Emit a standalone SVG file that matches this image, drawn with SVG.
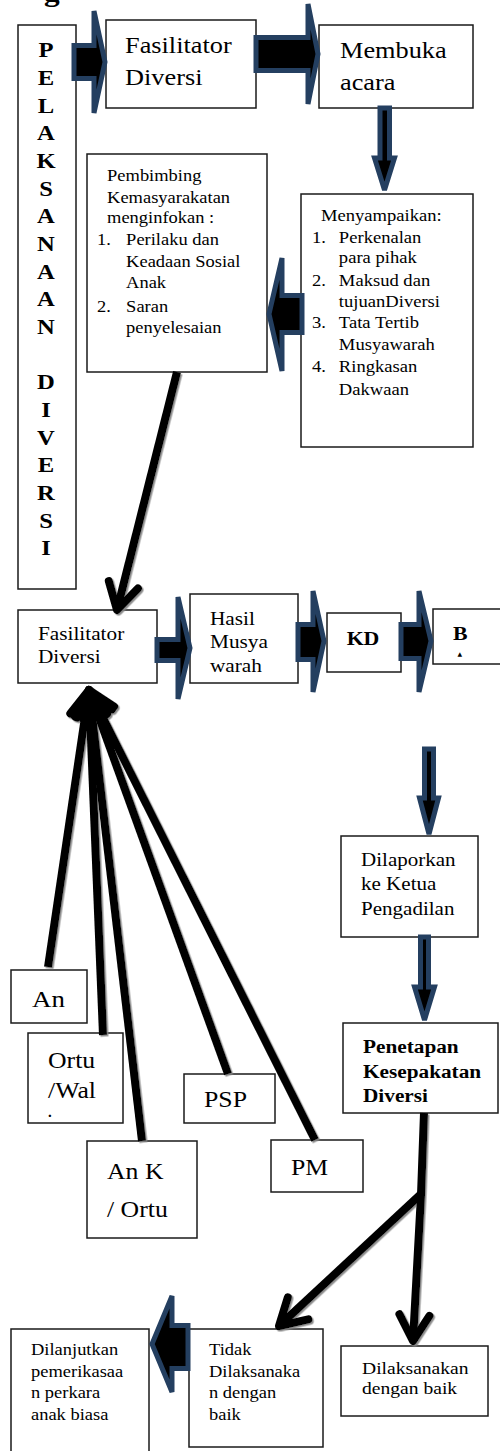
<svg xmlns="http://www.w3.org/2000/svg" width="500" height="1451" viewBox="0 0 500 1451">
<style>
.box{fill:#fff;stroke:#1a1a1a;stroke-width:1.5}
.t{font-family:"Liberation Serif","Times New Roman",serif;fill:#000}
.b{font-weight:bold}
.blk{fill:#000;stroke:#243f60;stroke-width:5;stroke-linejoin:miter;stroke-miterlimit:2}
.ln{fill:none;stroke:#000;stroke-width:8;marker-end:url(#chev)}
</style>
<defs>
<marker id="chev" markerUnits="userSpaceOnUse" markerWidth="80" markerHeight="80" viewBox="-40 -40 80 80" refX="0" refY="0" orient="auto">
<path d="M-26,-15 L0,0 L-26,15" fill="none" stroke="#000" stroke-width="8" stroke-linecap="round" stroke-linejoin="round"/>
</marker>
<filter id="sh" x="-20%" y="-20%" width="140%" height="140%">
<feDropShadow dx="1.5" dy="1.5" stdDeviation="0.6" flood-color="#808080" flood-opacity="0.9"/>
</filter>
</defs>

<text class="t b" font-size="28" transform="translate(44,1) scale(1.12,1)">g</text>

<g id="pelaksanaan">
<rect class="box" x="18" y="25" width="58" height="564"/>
<g transform="translate(46,0) scale(1.12,1)">
<text class="t b" font-size="22" text-anchor="middle">
<tspan x="0" y="57.3">P</tspan><tspan x="0" y="85">E</tspan><tspan x="0" y="112.6">L</tspan><tspan x="0" y="140.3">A</tspan><tspan x="0" y="168">K</tspan><tspan x="0" y="195.6">S</tspan><tspan x="0" y="223.3">A</tspan><tspan x="0" y="251">N</tspan><tspan x="0" y="278.6">A</tspan><tspan x="0" y="306.3">A</tspan><tspan x="0" y="334">N</tspan><tspan x="0" y="389.3">D</tspan><tspan x="0" y="417">I</tspan><tspan x="0" y="444.6">V</tspan><tspan x="0" y="472.3">E</tspan><tspan x="0" y="500">R</tspan><tspan x="0" y="527.6">S</tspan><tspan x="0" y="555.3">I</tspan>
</text>
</g>
</g>

<g id="fasilitator1">
<rect class="box" x="106" y="20" width="150" height="88"/>
<g transform="translate(125,0) scale(1.12,1)">
<text class="t" font-size="23.5"><tspan x="0" y="53">Fasilitator</tspan><tspan x="0" y="85">Diversi</tspan></text>
</g>
</g>

<g id="membuka">
<rect class="box" x="319" y="25" width="154" height="83"/>
<g transform="translate(340,0) scale(1.12,1)">
<text class="t" font-size="23.5"><tspan x="0" y="58">Membuka</tspan><tspan x="0" y="90">acara</tspan></text>
</g>
</g>

<g id="menyampaikan">
<rect class="box" x="301" y="194" width="172" height="253"/>
<g transform="translate(312,0) scale(1.12,1)">
<text class="t" font-size="16.6">
<tspan x="8" y="221">Menyampaikan:</tspan>
<tspan x="0" y="243.3">1.</tspan><tspan x="24" y="243.3">Perkenalan</tspan>
<tspan x="24" y="263.3">para pihak</tspan>
<tspan x="0" y="286">2.</tspan><tspan x="24" y="286">Maksud dan</tspan>
<tspan x="24" y="307.3">tujuanDiversi</tspan>
<tspan x="0" y="328.3">3.</tspan><tspan x="24" y="328.3">Tata Tertib</tspan>
<tspan x="24" y="350">Musyawarah</tspan>
<tspan x="0" y="371.7">4.</tspan><tspan x="24" y="371.7">Ringkasan</tspan>
<tspan x="24" y="395">Dakwaan</tspan>
</text>
</g>
</g>

<g id="pembimbing">
<rect class="box" x="87" y="154" width="180" height="218"/>
<g transform="translate(97,0) scale(1.12,1)">
<text class="t" font-size="16.5">
<tspan x="9" y="181">Pembimbing</tspan>
<tspan x="9" y="203.3">Kemasyarakatan</tspan>
<tspan x="9" y="223.3">menginfokan :</tspan>
<tspan x="0" y="245">1.</tspan><tspan x="26" y="245">Perilaku dan</tspan>
<tspan x="26" y="267.3">Keadaan Sosial</tspan>
<tspan x="26" y="287.7">Anak</tspan>
<tspan x="0" y="311.7">2.</tspan><tspan x="26" y="311.7">Saran</tspan>
<tspan x="26" y="333.3">penyelesaian</tspan>
</text>
</g>
</g>

<g id="fasilitator2">
<rect class="box" x="18" y="610" width="139" height="73"/>
<g transform="translate(38,0) scale(1.12,1)">
<text class="t" font-size="19"><tspan x="0" y="640">Fasilitator</tspan><tspan x="0" y="663">Diversi</tspan></text>
</g>
</g>

<g id="hasil">
<rect class="box" x="190" y="594" width="108" height="89"/>
<g transform="translate(210,0) scale(1.12,1)">
<text class="t" font-size="19"><tspan x="0" y="625">Hasil</tspan><tspan x="0" y="648">Musya</tspan><tspan x="0" y="672">warah</tspan></text>
</g>
</g>

<g id="kd">
<rect class="box" x="327" y="613" width="74" height="59"/>
<g transform="translate(363,0) scale(1.12,1)">
<text class="t b" font-size="19.5" text-anchor="middle" x="0" y="645">KD</text>
</g>
</g>

<g id="b">
<rect class="box" x="433" y="609" width="80" height="55"/>
<g transform="translate(453,0) scale(1.12,1)">
<text class="t b" font-size="19.5" x="0" y="640">B</text>
</g>
<text font-family="DejaVu Sans,sans-serif" font-size="6" x="457.5" y="656">▲</text>
</g>

<g id="dilaporkan">
<rect class="box" x="341" y="836" width="137" height="101"/>
<g transform="translate(361,0) scale(1.12,1)">
<text class="t" font-size="18.8"><tspan x="0" y="866">Dilaporkan</tspan><tspan x="0" y="890">ke Ketua</tspan><tspan x="0" y="915">Pengadilan</tspan></text>
</g>
</g>

<g id="penetapan">
<rect class="box" x="343" y="1023" width="155" height="90"/>
<g transform="translate(363,0) scale(1.12,1)">
<text class="t b" font-size="19"><tspan x="0" y="1053">Penetapan</tspan><tspan x="0" y="1078">Kesepakatan</tspan><tspan x="0" y="1102">Diversi</tspan></text>
</g>
</g>

<g id="an">
<rect class="box" x="11" y="970" width="76" height="53"/>
<g transform="translate(32,0) scale(1.12,1)"><text class="t" font-size="24" x="0" y="1007">An</text></g>
</g>

<g id="ortu">
<rect class="box" x="28" y="1033" width="95" height="90"/>
<g transform="translate(48,0) scale(1.12,1)"><text class="t" font-size="23"><tspan x="0" y="1068">Ortu</tspan><tspan x="0" y="1098">/Wal</tspan></text></g>
<text class="t b" font-size="15" x="48" y="1117">.</text>
</g>

<g id="psp">
<rect class="box" x="184" y="1074" width="91" height="49"/>
<g transform="translate(204,0) scale(1.12,1)"><text class="t" font-size="23" x="0" y="1107">PSP</text></g>
</g>

<g id="ank">
<rect class="box" x="87" y="1141" width="110" height="97"/>
<g transform="translate(107,0) scale(1.12,1)"><text class="t" font-size="23"><tspan x="0" y="1179">An K</tspan><tspan x="0" y="1217">/ Ortu</tspan></text></g>
</g>

<g id="pm">
<rect class="box" x="271" y="1140" width="92" height="52"/>
<g transform="translate(291,0) scale(1.12,1)"><text class="t" font-size="23" x="0" y="1175">PM</text></g>
</g>

<g id="tidak">
<rect class="box" x="189" y="1329" width="134" height="118"/>
<g transform="translate(209,0) scale(1.12,1)"><text class="t" font-size="16.5"><tspan x="0" y="1355">Tidak</tspan><tspan x="0" y="1377">Dilaksanaka</tspan><tspan x="0" y="1398">n dengan</tspan><tspan x="0" y="1420">baik</tspan></text></g>
</g>

<g id="dilanjutkan">
<rect class="box" x="11" y="1329" width="138" height="130"/>
<g transform="translate(31,0) scale(1.12,1)"><text class="t" font-size="16.5"><tspan x="0" y="1355">Dilanjutkan</tspan><tspan x="0" y="1377">pemerikasaa</tspan><tspan x="0" y="1398">n perkara</tspan><tspan x="0" y="1420">anak biasa</tspan></text></g>
</g>

<g id="dilaksanakan">
<rect class="box" x="341" y="1346" width="147" height="70"/>
<g transform="translate(362,0) scale(1.12,1)"><text class="t" font-size="17.5"><tspan x="0" y="1374">Dilaksanakan</tspan><tspan x="0" y="1394">dengan baik</tspan></text></g>
</g>

<g id="connectors">
<path class="blk" d="M74,45.5 H94 V11 L105,62 L94,113 V78.5 H74 Z"/>
<path class="blk" d="M256,37.5 H308 V4 L318,54 L308,104 V70.5 H256 Z"/>
<path class="blk" d="M380,108 V158 H374.5 L384.5,190 L394.5,158 H389.5 V108 Z"/>
<path class="blk" d="M302,295.5 H282 V258 L269,314 L282,371 V332.5 H302 Z"/>
<path class="blk" d="M157,639.5 H178 V597 L190,648 L178,699 V660.5 H157 Z"/>
<path class="blk" d="M298,624.5 H313 V591 L324,641 L313,692 V659.5 H298 Z"/>
<path class="blk" d="M401,624.5 H419 V591 L431,641 L419,692 V658.5 H401 Z"/>
<path class="blk" d="M424.5,749 V798 H419.5 L429,834 L438.5,798 H433.5 V749 Z"/>
<path class="blk" d="M420.5,937 V987 H414.5 L424.5,1020 L434.5,987 H428.5 V937 Z"/>
<path class="blk" d="M188,1325.5 H172 V1296 L152,1344 L172,1392 V1368.5 H188 Z"/>
<g filter="url(#sh)">
<path class="ln" d="M177,372 L117,610"/>
<path class="ln" d="M48,967 L89,690"/>
<path class="ln" d="M103,1035 L89,690"/>
<path class="ln" d="M142,1141 L89,690"/>
<path class="ln" d="M228,1074 L89,690"/>
<path class="ln" d="M315,1140 L89,690"/>
<path class="ln" d="M424,1113 L421,1195 L413,1341"/>
<path class="ln" d="M421,1194 L279,1326"/>
</g>
</g>
</svg>
